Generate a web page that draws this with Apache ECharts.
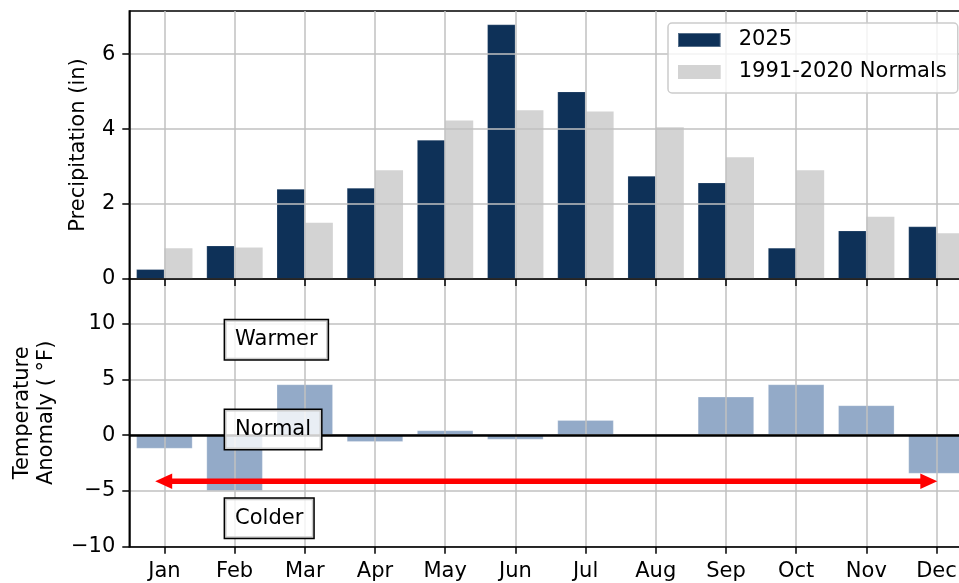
<!DOCTYPE html>
<html>
<head>
<meta charset="utf-8">
<script src="https://cdn.jsdelivr.net/npm/echarts@6/dist/echarts.min.js"></script>
<style>
    html, body { margin: 0; padding: 0; background: #fff; }
    #chart { width: 959px; height: 583px; }
</style>
</head>
<body>
<div id="chart"></div>
<script>
    // values
    var months = ['Jan', 'Feb', 'Mar', 'Apr', 'May', 'Jun', 'Jul', 'Aug', 'Sep', 'Oct', 'Nov', 'Dec'];
    var precip2025 = [0.26, 0.89, 2.40, 2.43, 3.71, 6.79, 5.00, 2.75, 2.57, 0.83, 1.29, 1.40];
    var precipNormals = [0.82, 0.84, 1.50, 2.90, 4.23, 4.50, 4.47, 4.05, 3.25, 2.90, 1.66, 1.22];
    var tempAnomaly = [-1.2, -5.0, 4.55, -0.6, 0.42, -0.39, 1.35, 0.0, 3.44, 4.55, 2.67, -3.44];

    var precipTicks = [0, 2, 4, 6];
    var anomalyTicks = [-10, -5, 0, 5, 10];

    // annotations in the lower panel
    var noteLabels = ['Warmer', 'Normal', 'Colder'];
    var noteY = [8.55, 0.5, -7.45];
    var arrowX = [-0.01, 10.89];
    var arrowY = -4.13;

    var font = 'DejaVu Sans';
    var fs = 21;
    var gridColor = '#c0c0c0';
    var black = '#000';

    function fmtNum(v) {
        return v < 0 ? '\u2212' + Math.abs(v) : String(v);
    }

    function gridBox(top, height) {
        return {
            left: 129.3, right: -12.6, top: top, height: height,
            show: true, borderColor: black, borderWidth: 1.5,
            containLabel: false, outerBoundsMode: 'none'
        };
    }

    function monthAxis(gridIndex, showLabels) {
        return {
            type: 'category', gridIndex: gridIndex, data: months, z: 3,
            axisLine: {show: true, onZero: false, lineStyle: {color: black, width: 1.5}},
            axisTick: {show: true, alignWithLabel: true, length: 7, lineStyle: {color: black, width: 1.5}},
            axisLabel: {show: showLabels, margin: 14, fontSize: fs, color: black, fontFamily: font},
            splitLine: {show: true, alignWithLabel: true, lineStyle: {color: gridColor, width: 1.5}}
        };
    }

    function valueAxis(gridIndex, min, max, ticks, name, nameGap) {
        return {
            type: 'value', gridIndex: gridIndex, min: min, max: max, z: 3,
            name: name, nameLocation: 'middle', nameGap: nameGap,
            nameTextStyle: {fontSize: fs, color: black, fontFamily: font, lineHeight: 24},
            axisLine: {show: true, onZero: false, lineStyle: {color: black, width: 1.5}},
            axisTick: {show: true, length: 7, customValues: ticks, lineStyle: {color: black, width: 1.5}},
            axisLabel: {show: true, customValues: ticks, margin: 14, fontSize: fs, color: black,
                fontFamily: font, formatter: fmtNum},
            splitLine: {show: true, lineStyle: {color: gridColor, width: 1.5}}
        };
    }

    var chart = echarts.init(document.getElementById('chart'));

    var option = {
        animation: false,
        backgroundColor: '#fff',
        textStyle: {fontFamily: font},
        grid: [gridBox(11, 268), gridBox(279, 267.7)],
        legend: {
            data: ['2025', '1991-2020 Normals'],
            orient: 'vertical',
            left: 668, top: 23,
            icon: 'rect',
            itemWidth: 42.7, itemHeight: 14, itemGap: 11,
            padding: [6.5, 11, 10.5, 9],
            backgroundColor: 'rgba(255,255,255,0.8)',
            borderColor: '#cccccc', borderWidth: 1.5, borderRadius: 4,
            textStyle: {fontSize: fs, color: black, fontFamily: font, lineHeight: 21, padding: [0, 0, 0, 13]}
        },
        xAxis: [
            monthAxis(0, false),
            monthAxis(1, true),
            {type: 'value', gridIndex: 1, min: -0.5, max: 11.5, show: false}
        ],
        yAxis: [
            valueAxis(0, 0, 7.15, precipTicks, 'Precipitation (in)', 37),
            valueAxis(1, -10, 14, anomalyTicks, 'Temperature\nAnomaly ( \u00b0F)', 71)
        ],
        series: [
            {
                name: '2025', type: 'bar', xAxisIndex: 0, yAxisIndex: 0,
                data: precip2025, barWidth: '40%', barGap: '0%',
                itemStyle: {color: '#0e3158', borderColor: 'rgba(255,255,255,0.3)', borderWidth: 0.6}
            },
            {
                name: '1991-2020 Normals', type: 'bar', xAxisIndex: 0, yAxisIndex: 0,
                data: precipNormals, barWidth: '40%', barGap: '0%',
                itemStyle: {color: '#d3d3d3'}
            },
            {
                name: 'Anomaly', type: 'bar', xAxisIndex: 1, yAxisIndex: 1,
                data: tempAnomaly, barWidth: '80%',
                itemStyle: {color: '#93aac8', borderColor: 'rgba(255,255,255,0.4)', borderWidth: 0.6},
                markLine: {
                    silent: true, symbol: 'none',
                    label: {show: false},
                    lineStyle: {color: black, width: 2.7, type: 'solid'},
                    data: [{yAxis: 0}]
                }
            },
            {
                name: 'arrow', type: 'line', xAxisIndex: 2, yAxisIndex: 1, z: 8, silent: true,
                data: [
                    {value: [arrowX[0], arrowY], symbolRotate: 90},
                    {value: [arrowX[1], arrowY], symbolRotate: -90}
                ],
                symbol: 'triangle', symbolSize: [15.6, 17], showSymbol: true,
                lineStyle: {color: '#ff0000', width: 5.5},
                itemStyle: {color: '#ff0000', borderWidth: 0}
            },
            {
                name: 'notes', type: 'scatter', xAxisIndex: 1, yAxisIndex: 1, z: 10, silent: true,
                symbolSize: 0,
                itemStyle: {opacity: 1},
                data: noteLabels.map(function (t, i) {
                    return {name: t, value: [1, noteY[i]]};
                }),
                label: {
                    show: true, position: 'right', distance: 0, offset: [-9.5, 0],
                    formatter: '{b}', fontSize: fs, color: black, fontFamily: font, lineHeight: 21,
                    opacity: 1,
                    backgroundColor: 'rgba(255,255,255,0.8)',
                    borderColor: black, borderWidth: 1.5,
                    padding: [9, 10, 9, 10]
                }
            }
        ]
    };

    chart.setOption(option);
</script>
</body>
</html>
